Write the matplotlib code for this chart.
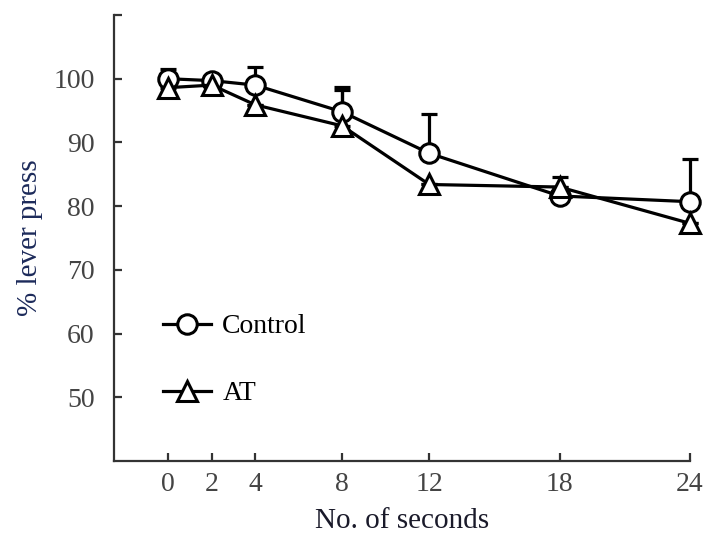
import numpy as np
import matplotlib.pyplot as plt

# --- data ---
seconds = [0, 2, 4, 8, 12, 18, 24]
control = [100.0, 99.7, 99.0, 94.8, 88.3, 81.6, 80.7]
control_err = [1.6, 0.8, 2.9, 3.9, 6.2, 2.9, 6.7]
at = [98.6, 99.0, 95.9, 92.6, 83.4, 83.0, 77.3]
at_err = [1.2, 0.6, 0.0, 5.6, 0.0, 0.0, 0.0]

yticks = [50, 60, 70, 80, 90, 100, 110]

plt.rcParams['font.family'] = ['Liberation Serif', 'DejaVu Serif']

fig = plt.figure(figsize=(7.1, 5.38), dpi=100)
ax = fig.add_axes([0.1606, 0.1431, 0.8112, 0.829])

lw = 2.3
for y, e in [(control, control_err), (at, at_err)]:
    ax.errorbar(seconds, y, yerr=[np.zeros(len(e)), e], fmt='none', ecolor='black',
                elinewidth=lw, capsize=5.5, capthick=lw, zorder=2, clip_on=False)

h1, = ax.plot(seconds, control, color='black', lw=lw, marker='o', ms=14,
              mfc='white', mec='black', mew=2.2, zorder=3, label='Control', clip_on=False)
h2, = ax.plot(seconds, at, color='black', lw=lw, marker='^', ms=14,
              mfc='white', mec='black', mew=2.2, zorder=3, label='AT', clip_on=False)

ax.set_xlim(-2.5, 24)
ax.set_ylim(40, 110)
ax.set_xticks(seconds)
ax.set_yticks(yticks)
ax.set_yticklabels([str(t) if t < 110 else '' for t in yticks])

for s in ['top', 'right']:
    ax.spines[s].set_visible(False)
for s in ['left', 'bottom']:
    ax.spines[s].set_linewidth(1.6)
    ax.spines[s].set_color('#333333')

ax.tick_params(direction='in', length=6, width=1.6, color='#333333',
               labelsize=20, labelcolor='#444444')
ax.tick_params(axis='y', pad=14)
ax.tick_params(axis='x', pad=8)

ax.set_xlabel('No. of seconds', fontsize=21, color='#1a1a2a', labelpad=8)
ax.set_ylabel('% lever press', fontsize=21, color='#1c2a5a', labelpad=7)

ax.legend(handles=[h1, h2], loc='upper left', bbox_to_anchor=(0.041, 0.386),
          frameon=False, fontsize=20, handlelength=1.75, labelspacing=1.5,
          handletextpad=0.4)

fig.savefig('out.png', dpi=100)
